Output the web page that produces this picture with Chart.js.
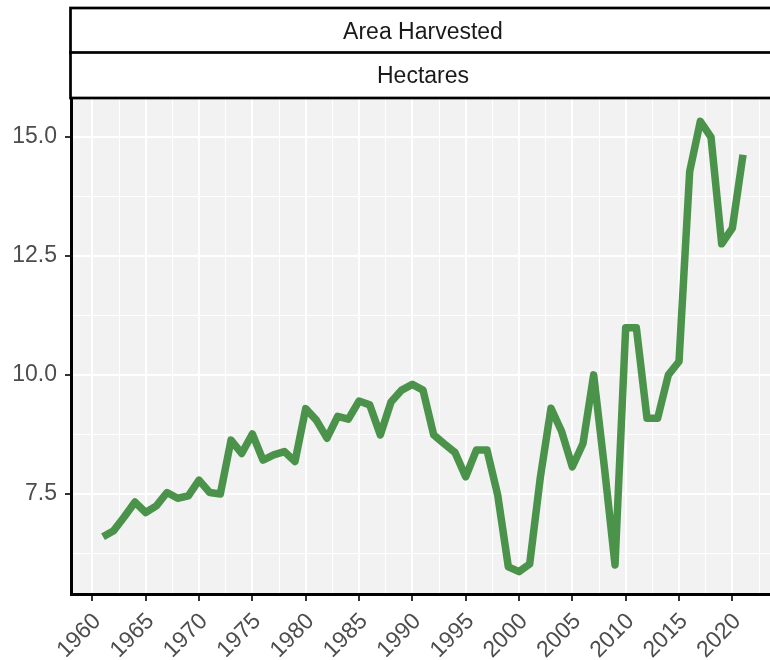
<!DOCTYPE html>
<html>
<head>
<meta charset="utf-8">
<script src="https://cdn.jsdelivr.net/npm/chart.js@4"></script>
<style>
  html, body { margin: 0; padding: 0; background: #fff; overflow: hidden; }
  #wrap { width: 770px; height: 660px; }
</style>
</head>
<body>
<div id="wrap"><canvas id="harvest" width="770" height="660"></canvas></div>
<script>
const years = [1961, 1962, 1963, 1964, 1965, 1966, 1967, 1968, 1969, 1970,
               1971, 1972, 1973, 1974, 1975, 1976, 1977, 1978, 1979, 1980,
               1981, 1982, 1983, 1984, 1985, 1986, 1987, 1988, 1989, 1990,
               1991, 1992, 1993, 1994, 1995, 1996, 1997, 1998, 1999, 2000,
               2001, 2002, 2003, 2004, 2005, 2006, 2007, 2008, 2009, 2010,
               2011, 2012, 2013, 2014, 2015, 2016, 2017, 2018, 2019, 2020, 2021];
const hectares = [6.60, 6.73, 7.02, 7.33, 7.11, 7.25, 7.53, 7.41, 7.46, 7.79,
                  7.53, 7.50, 8.63, 8.35, 8.76, 8.21, 8.32, 8.39, 8.18, 9.29,
                  9.05, 8.67, 9.13, 9.07, 9.45, 9.37, 8.74, 9.43, 9.68, 9.80,
                  9.68, 8.74, 8.55, 8.37, 7.86, 8.42, 8.42, 7.48, 5.97, 5.87,
                  6.03, 7.85, 9.30, 8.81, 8.07, 8.56, 10.00, 8.07, 6.01, 10.99,
                  10.99, 9.09, 9.09, 10.00, 10.28, 14.27, 15.32, 14.99, 12.75, 13.08, 14.62];

const xTicks = [1960, 1965, 1970, 1975, 1980, 1985, 1990, 1995, 2000, 2005, 2010, 2015, 2020];
const xMinor = [1962.5, 1967.5, 1972.5, 1977.5, 1982.5, 1987.5, 1992.5, 1997.5, 2002.5, 2007.5, 2012.5, 2017.5, 2022.5];
const yTicks = [7.5, 10.0, 12.5, 15.0];
const yMinor = [6.25, 8.75, 11.25, 13.75];

const stripLabels = ['Area Harvested', 'Hectares'];

const tickGrey = '#4D4D4D';
const lineGreen = 'rgb(75, 147, 75)';
const fontFamily = '"Liberation Sans", Arial, sans-serif';

// grey panel + the two facet strips above it
const panelPlugin = {
  id: 'panel',
  beforeDraw(chart) {
    const { ctx, chartArea: a } = chart;
    ctx.save();
    ctx.fillStyle = '#F2F2F2';
    ctx.fillRect(a.left, a.top, a.right - a.left, a.bottom - a.top);
    ctx.restore();
  },
  afterDraw(chart) {
    const { ctx, chartArea: a } = chart;
    const tops = [8, 52.5];
    const h = 45.5;
    ctx.save();
    ctx.font = '23px ' + fontFamily;
    ctx.textAlign = 'center';
    ctx.textBaseline = 'middle';
    stripLabels.forEach((lab, i) => {
      const y0 = tops[i];
      ctx.fillStyle = '#fff';
      ctx.fillRect(a.left - 1, y0, chart.width, h);
      ctx.lineWidth = 2.7;
      ctx.strokeStyle = '#000';
      ctx.strokeRect(a.left - 0.5, y0, chart.width + 10, h);
      ctx.fillStyle = '#1A1A1A';
      ctx.fillText(lab, (a.left + 775) / 2, y0 + h / 2 + 1.5);
    });
    ctx.restore();
  }
};

const isMajor = (v, list) => list.some(t => Math.abs(t - v) < 1e-6);

new Chart(document.getElementById('harvest'), {
  type: 'line',
  data: {
    datasets: [{
      data: years.map((y, i) => ({ x: y, y: hectares[i] })),
      borderColor: lineGreen,
      borderWidth: 7.5,
      borderJoinStyle: 'round',
      borderCapStyle: 'butt',
      pointRadius: 0,
      tension: 0,
      fill: false
    }]
  },
  options: {
    responsive: false,
    animation: false,
    layout: { padding: { top: 99, left: 0, right: 0, bottom: 0 } },
    plugins: { legend: { display: false }, tooltip: { enabled: false } },
    scales: {
      x: {
        type: 'linear',
        min: 1958,
        max: 2023.53,
        afterFit: s => { s.height = 66; s.paddingLeft = 0; s.paddingRight = 0; },
        afterBuildTicks: s => {
          s.ticks = xTicks.concat(xMinor).sort((a, b) => a - b).map(v => ({ value: v }));
        },
        ticks: {
          autoSkip: false,
          maxRotation: 45,
          minRotation: 45,
          padding: 7,
          labelOffset: 5,
          color: tickGrey,
          font: { family: fontFamily, size: 23 },
          callback: v => isMajor(v, xTicks) ? String(v) : ''
        },
        grid: {
          color: '#fff',
          lineWidth: c => isMajor(c.tick.value, xTicks) ? 2 : 1,
          tickLength: 7,
          tickWidth: 2,
          tickColor: c => isMajor(c.tick.value, xTicks) ? '#333' : 'rgba(0,0,0,0)'
        },
        border: { color: '#000', width: 3 }
      },
      y: {
        min: 5.40,
        max: 15.79,
        afterFit: s => { s.width = 71; s.paddingTop = 0; s.paddingBottom = 0; },
        afterBuildTicks: s => {
          s.ticks = yTicks.concat(yMinor).sort((a, b) => a - b).map(v => ({ value: v }));
        },
        ticks: {
          padding: 8,
          color: tickGrey,
          font: { family: fontFamily, size: 23 },
          callback: v => isMajor(v, yTicks) ? v.toFixed(1) : ''
        },
        grid: {
          color: '#fff',
          lineWidth: c => isMajor(c.tick.value, yTicks) ? 2 : 1,
          tickLength: 6,
          tickWidth: 2,
          tickColor: c => isMajor(c.tick.value, yTicks) ? '#333' : 'rgba(0,0,0,0)'
        },
        border: { color: '#000', width: 3 }
      }
    }
  },
  plugins: [panelPlugin]
});
</script>
</body>
</html>
